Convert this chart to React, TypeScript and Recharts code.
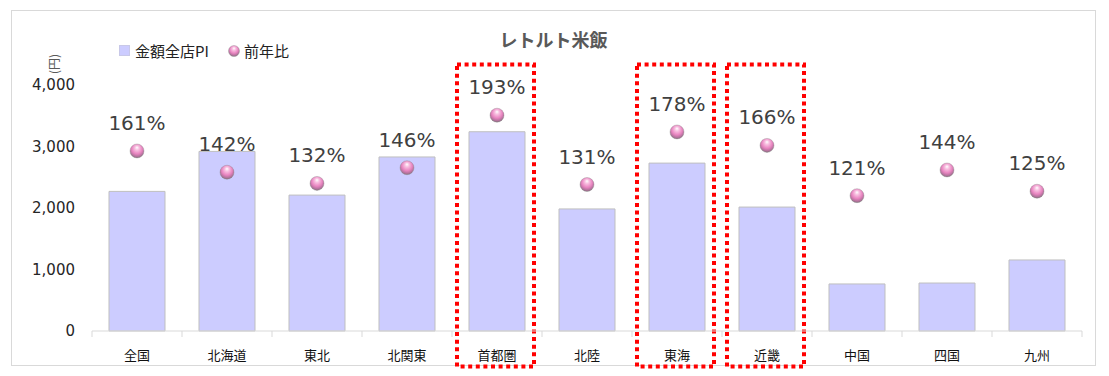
import React from "react";
import {
  ComposedChart,
  Bar,
  Scatter,
  XAxis,
  YAxis,
  Legend,
  LabelList,
  ReferenceArea,
} from "recharts";

const regions = ["全国", "北海道", "東北", "北関東", "首都圏", "北陸", "東海", "近畿", "中国", "四国", "九州"];
const piValues = [2270, 2920, 2210, 2830, 3240, 1985, 2730, 2015, 765, 780, 1155];
const yoyRatios = [161, 142, 132, 146, 193, 131, 178, 166, 121, 144, 125];
const highlighted = ["首都圏", "東海", "近畿"];
const yTicks = [0, 1000, 2000, 3000, 4000];

const BAR_FILL = "#ccccff";
const JP_FONT = "'Noto Sans CJK JP', sans-serif";
const NUM_FONT = "'DejaVu Sans', sans-serif";

const data = regions.map((name, i) => ({ name, pi: piValues[i], ratio: yoyRatios[i] }));

// pink sphere marker
const SphereDot = ({ cx, cy }: any) => (
  <circle cx={cx} cy={cy} r={7} fill="url(#sphere)" stroke="#8a8a8a" strokeOpacity={0.45} strokeWidth={0.8} />
);

const RatioLabel = (props: any) => {
  const vb = props.viewBox || props;
  const cx = vb.x + (vb.width || 0) / 2;
  const cy = vb.y + (vb.height || 0) / 2;
  return (
    <text x={cx} y={cy - 28} textAnchor="middle" dominantBaseline="central" fontSize={20} fontFamily={NUM_FONT} fill="#404040">
      {props.value}%
    </text>
  );
};

// Excel-like category tick: marks at band edges, label centered
const CategoryTick = (props: any) => {
  const { x, y, payload, index } = props;
  const half = payload.offset || 45;
  return (
    <g>
      <line x1={x - half} x2={x - half} y1={y} y2={y + 6} stroke="#d9d9d9" />
      {index === regions.length - 1 && <line x1={x + half} x2={x + half} y1={y} y2={y + 6} stroke="#d9d9d9" />}
      <text x={x} y={y + 23} textAnchor="middle" dominantBaseline="central" fontSize={13} fontFamily={JP_FONT} fill="#111">
        {payload.value}
      </text>
    </g>
  );
};

const HighlightBox = (props: any) => {
  const { x, y, width, height } = props;
  return (
    <rect
      x={x + 5}
      y={y - 20.5}
      width={width - 13}
      height={height + 56}
      fill="none"
      stroke="#ff0000"
      strokeWidth={4}
      strokeDasharray="4 3.6"
    />
  );
};

const LegendContent = () => (
  <div style={{ display: "flex", alignItems: "center", fontFamily: JP_FONT, fontSize: 15, color: "#222", whiteSpace: "nowrap" }}>
    <span style={{ width: 9, height: 9, background: BAR_FILL, border: "1px solid #c8c8e8", marginRight: 5 }} />
    <span>金額全店PI</span>
    <svg width={14} height={14} style={{ marginLeft: 18, marginRight: 3 }}>
      <circle cx={7} cy={7} r={5.5} fill="url(#sphere)" stroke="#8a8a8a" strokeOpacity={0.45} strokeWidth={0.8} />
    </svg>
    <span>前年比</span>
  </div>
);

const YUnitLabel = (props: any) => {
  const vb = props.viewBox;
  const cx = vb.x + 21;
  const cy = vb.y - 21;
  return (
    <text x={cx} y={cy} transform={`rotate(-90 ${cx} ${cy})`} textAnchor="middle" dominantBaseline="central" fontSize={12} fontFamily={JP_FONT} fill="#595959">
      (円)
    </text>
  );
};

export default function App() {
  return (
    <div style={{ position: "fixed", left: 0, top: 0, width: 1109, height: 376, background: "#fff" }}>
      <svg width={0} height={0} style={{ position: "absolute" }}>
        <defs>
          <radialGradient id="sphere" cx="50%" cy="40%" r="62%" fx="50%" fy="25%">
            <stop offset="0%" stopColor="#ffffff" />
            <stop offset="25%" stopColor="#f8bfe0" />
            <stop offset="60%" stopColor="#e884c0" />
            <stop offset="85%" stopColor="#b0729a" />
            <stop offset="100%" stopColor="#7c6e76" />
          </radialGradient>
        </defs>
      </svg>
      <div style={{ position: "absolute", left: 11, top: 10, width: 1083, height: 354, border: "1px solid #d9d9d9" }} />
      <div
        style={{
          position: "absolute",
          left: 0,
          width: 1109,
          top: 26,
          textAlign: "center",
          fontFamily: JP_FONT,
          fontWeight: 700,
          fontSize: 18,
          color: "#595959",
          lineHeight: "26px",
        }}
      >
        <span style={{ position: "relative", left: -1 }}>レトルト米飯</span>
      </div>
      <ComposedChart width={1109} height={376} data={data} margin={{ top: 85, right: 27, bottom: 0, left: 32 }} style={{ position: "absolute", left: 0, top: 0 }}>
        <XAxis
          dataKey="name"
          height={45}
          axisLine={{ stroke: "#d9d9d9" }}
          tickLine={false}
          tickSize={0}
          tickMargin={0}
          interval={0}
          tick={<CategoryTick />}
        />
        <YAxis
          yAxisId="l"
          width={60}
          domain={[0, 4000]}
          ticks={yTicks}
          axisLine={false}
          tickLine={false}
          tickMargin={11}
          tickFormatter={(v: number) => v.toLocaleString("en-US")}
          tick={{ fontSize: 15, fontFamily: NUM_FONT, fill: "#262626" }}
          label={<YUnitLabel />}
        />
        <YAxis yAxisId="r" orientation="right" hide domain={[0, 220]} />
        <Legend
          layout="horizontal"
          verticalAlign="middle"
          align="center"
          content={<LegendContent />}
          wrapperStyle={{ top: 40, left: 119, width: "auto" }}
        />
        <Bar yAxisId="l" dataKey="pi" name="金額全店PI" fill={BAR_FILL} stroke="#bfbfbf" strokeWidth={1} barSize={56} isAnimationActive={false} />
        <Scatter yAxisId="r" dataKey="ratio" name="前年比" shape={<SphereDot />} isAnimationActive={false}>
          <LabelList dataKey="ratio" content={<RatioLabel />} />
        </Scatter>
        {highlighted.map((h) => (
          <ReferenceArea key={h} yAxisId="l" x1={h} x2={h} y1={0} y2={4000} ifOverflow="visible" shape={<HighlightBox />} />
        ))}
      </ComposedChart>
    </div>
  );
}
